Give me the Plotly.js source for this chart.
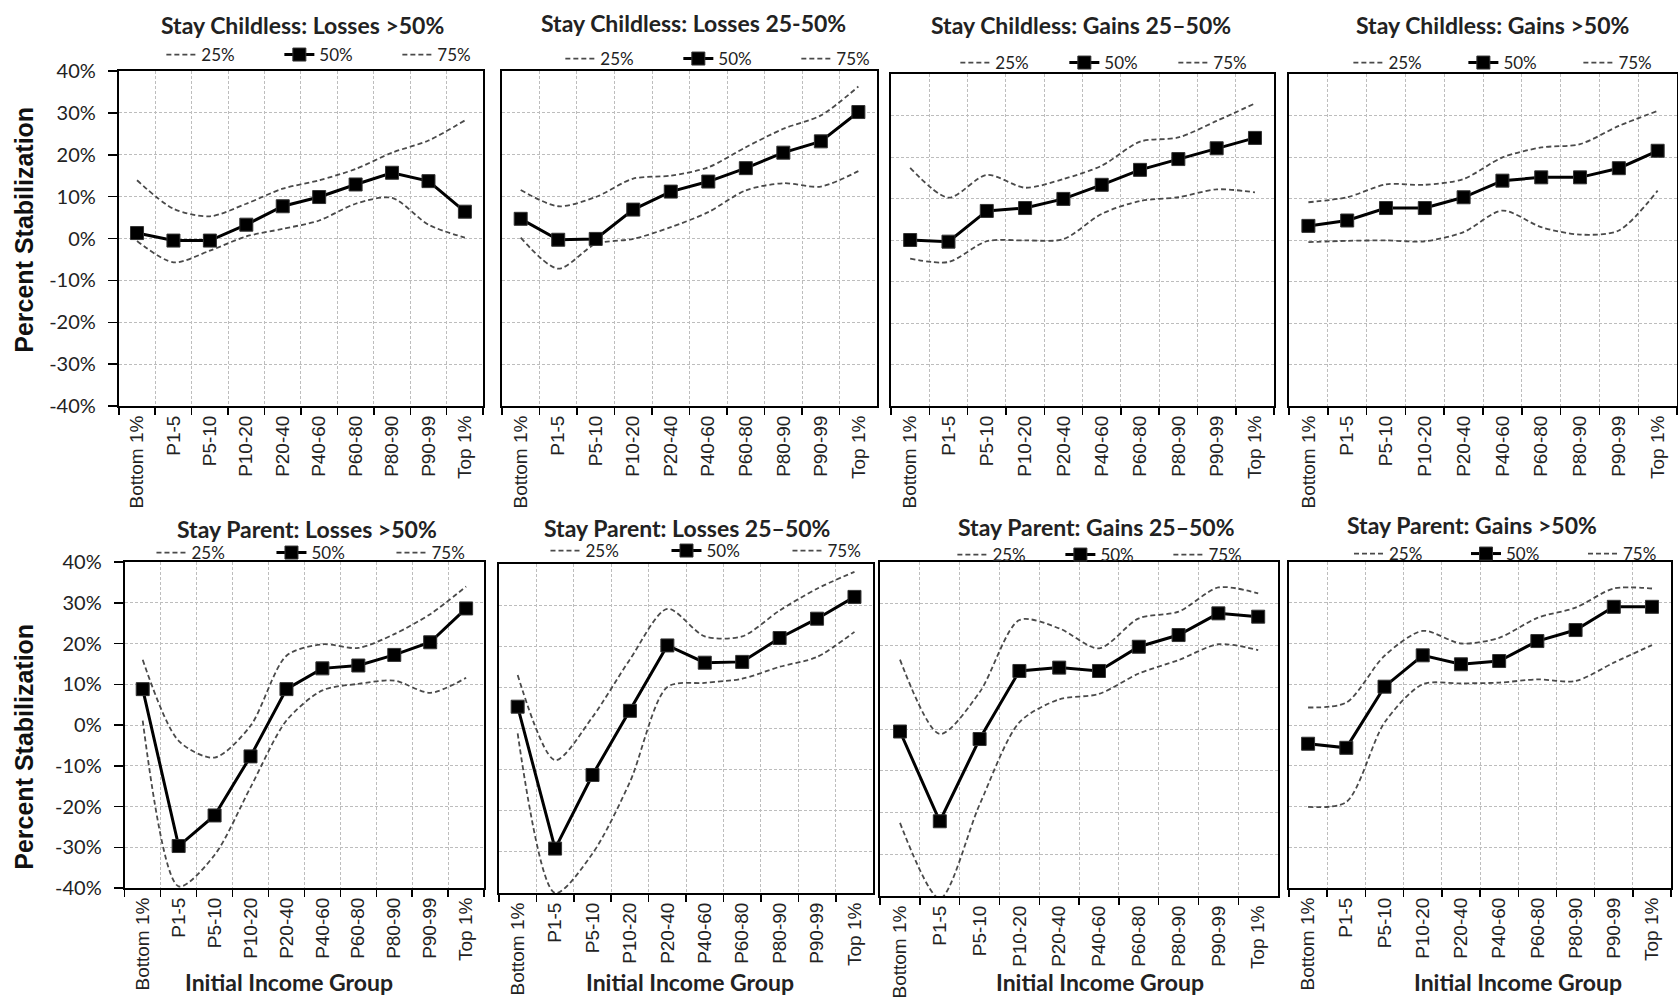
<!DOCTYPE html>
<html><head><meta charset="utf-8">
<script src="https://cdn.plot.ly/plotly-3.0.1.min.js"></script>
<style>html,body{margin:0;padding:0;overflow:hidden;background:#fff}#chart{width:1700px;height:1000px}</style>
</head><body><div id="chart"></div><script>
const categories = ["Bottom 1%","P1-5","P5-10","P10-20","P20-40","P40-60","P60-80","P80-90","P90-99","Top 1%"];
const legendLabels = ["25%","50%","75%"];
const yTickVals = [-40,-30,-20,-10,0,10,20,30,40];
const yTickText = ["-40%","-30%","-20%","-10%","0%","10%","20%","30%","40%"];
const panelTitles = ["Stay Childless: Losses >50%","Stay Childless: Losses 25-50%","Stay Childless: Gains 25–50%","Stay Childless: Gains >50%",
  "Stay Parent: Losses >50%","Stay Parent: Losses 25–50%","Stay Parent: Gains 25–50%","Stay Parent: Gains >50%"];
const yTitle = "Percent Stabilization";
const xTitle = "Initial Income Group";

// Stay Childless: Losses >50%
const cl50_q25 = [-0.6,-5.7,-2.9,0.5,2.3,4.3,8.3,9.7,3.3,0.2];
const cl50_q50 = [1.3,-0.5,-0.5,3.3,7.7,9.9,12.9,15.7,13.7,6.4];
const cl50_q75 = [13.9,7.1,5.3,8.3,11.9,13.9,16.6,20.5,23.4,28.2];
// Stay Childless: Losses 25-50%
const cl25_q25 = [0.2,-7.2,-1.3,-0.1,2.7,6.3,11.5,13.2,12.4,16.1];
const cl25_q50 = [4.7,-0.3,-0.1,6.9,11.2,13.6,16.8,20.5,23.2,30.2];
const cl25_q75 = [11.6,7.7,9.9,14.3,15.0,17.0,21.8,26.2,29.4,36.3];
// Stay Childless: Gains 25-50%
const cg25_q25 = [-4.5,-5.3,-0.3,-0.1,0.2,6.3,9.4,10.3,12.2,11.5];
const cg25_q50 = [0.0,-0.4,7.0,7.7,9.9,13.3,16.9,19.5,22.1,24.6];
const cg25_q75 = [17.4,10.2,15.7,12.6,14.7,17.9,23.7,24.7,28.7,32.9];
// Stay Childless: Gains >50%
const cg50_q25 = [-0.5,-0.2,-0.1,-0.3,1.9,7.1,3.1,1.3,2.3,11.9];
const cg50_q50 = [3.4,4.7,7.7,7.7,10.3,14.3,15.1,15.1,17.3,21.5];
const cg50_q75 = [9.1,10.3,13.4,13.3,14.7,19.9,22.3,23.1,27.5,31.1];
// Stay Parent: Losses >50%
const pl50_q25 = [1.1,-39.6,-31.9,-15.3,1.1,8.5,10.1,10.9,7.9,11.6];
const pl50_q50 = [8.8,-29.7,-22.2,-7.7,8.8,13.9,14.6,17.2,20.3,28.6];
const pl50_q75 = [16.0,-3.9,-8.0,-0.2,17.0,19.8,18.9,22.3,27.2,34.0];
// Stay Parent: Losses 25-50%
const pl25_q25 = [-1.2,-40.0,-30.4,-13.0,10.1,11.1,12.1,15.0,17.4,23.5];
const pl25_q50 = [5.3,-29.2,-11.3,4.3,20.2,16.0,16.2,22.0,26.7,32.0];
const pl25_q75 = [13.0,-7.7,2.8,16.8,29.1,22.4,22.4,28.7,34.0,38.1];
// Stay Parent: Gains 25-50%
const pg25_q25 = [-22.5,-40.6,-18.1,1.6,7.1,8.4,13.3,16.5,20.3,18.9];
const pg25_q50 = [-0.6,-22.1,-2.4,13.9,14.7,13.9,19.7,22.5,27.7,26.9];
const pg25_q75 = [16.6,-1.2,8.8,26.1,24.1,19.3,26.5,28.1,33.9,32.5];
// Stay Parent: Gains >50%
const pg50_q25 = [-20.1,-18.9,0.6,10.0,10.2,10.4,11.2,10.8,15.3,19.6];
const pg50_q50 = [-4.6,-5.6,9.4,17.1,14.9,15.7,20.6,23.3,29.0,29.0];
const pg50_q75 = [4.3,5.5,17.0,23.1,20.0,21.4,26.3,28.8,33.5,33.5];

const series = [
  [cl50_q25,cl50_q50,cl50_q75],[cl25_q25,cl25_q50,cl25_q75],[cg25_q25,cg25_q50,cg25_q75],[cg50_q25,cg50_q50,cg50_q75],
  [pl50_q25,pl50_q50,pl50_q75],[pl25_q25,pl25_q50,pl25_q75],[pg25_q25,pg25_q50,pg25_q75],[pg50_q25,pg50_q50,pg50_q75]
];

// layout geometry (pixels)
const W = 1700, H = 1000;
const boxes = [[120,488,71,406],[507,886,71,406],[900,1287,74,406],[1302,1694,74,406],
               [126,489,562,888],[504,882,564,893],[889,1291,562,896],[1302,1688,562,888]];
const titlePos = [[306,25],[700,23],[1092,25],[1508,25],[310,529],[694,528],[1108,527],[1487,525]];
const legendPos = [[163,55,118],[566,59,118],[965,63,109],[1362,63,115],[153,553,120],[551,551,121],[962,555,108],[1363,554,117]];
const yTitlePos = [[24,230],[24,747]];
const xTitlePos = [[292,982],[697,982],[1111,982],[1533,982]];

const traces = [];
const layout = {
  width: W, height: H, margin:{l:0,r:0,t:0,b:0}, paper_bgcolor:'#fff', plot_bgcolor:'#fff',
  showlegend: true, annotations: [], font:{family:'Lato', color:'#222'}
};
const dashStyle = '5px,3px';
for (let i = 0; i < 8; i++) {
  const n = i === 0 ? '' : String(i+1);
  const lg = i === 0 ? 'legend' : 'legend' + (i+1);
  const [q25,q50,q75] = series[i];
  const common = {x: categories, xaxis:'x'+n, yaxis:'y'+n, legend: lg, hoverinfo:'skip'};
  traces.push(Object.assign({}, common, {y:q25, name:legendLabels[0], mode:'lines',
    line:{color:'#4a4a4a', width:1.8, dash:dashStyle, shape:'spline', smoothing:0.8}}));
  traces.push(Object.assign({}, common, {y:q50, name:legendLabels[1], mode:'lines+markers',
    line:{color:'#000', width:3}, marker:{symbol:'square', size:13, color:'#000', line:{color:'#333', width:1}}}));
  traces.push(Object.assign({}, common, {y:q75, name:legendLabels[2], mode:'lines',
    line:{color:'#4a4a4a', width:1.8, dash:dashStyle, shape:'spline', smoothing:0.8}}));
  const [x0,x1,y0,y1] = boxes[i];
  const leftPanel = (i === 0 || i === 4);
  layout['xaxis'+n] = {
    domain:[x0/W, x1/W], anchor:'y'+n, type:'category', categoryarray: categories, range:[-0.5,9.5],
    tickson:'boundaries', ticks:'outside', ticklen:7, tickwidth:1.5, tickcolor:'#000',
    showline:true, mirror:true, linecolor:'#000', linewidth:2,
    showgrid:true, gridcolor:'#bdbdbd', gridwidth:1, griddash:'3px,2px', zeroline:false,
    tickangle:-90, tickfont:{family:'Liberation Sans', size:19, color:'#222'}, fixedrange:true
  };
  layout['yaxis'+n] = {
    domain:[1-y1/H, 1-y0/H], anchor:'x'+n, range:[-40,40], tickvals:yTickVals, ticktext:yTickText,
    showticklabels: leftPanel, ticks: leftPanel ? 'outside' : '', ticklen:9, tickwidth:1.5, tickcolor:'#000',
    ticklabelstandoff: 8,
    showline:true, mirror:true, linecolor:'#000', linewidth:2,
    showgrid:true, gridcolor:'#bdbdbd', gridwidth:1, griddash:'3px,2px', zeroline:false,
    tickfont:{family:'Lato', size:20, color:'#222'}, fixedrange:true
  };
  const [lx,ly,lw] = legendPos[i];
  layout[lg] = {orientation:'h', x: lx/W, y: 1-ly/H, xanchor:'left', yanchor:'middle',
    entrywidth: lw-45, entrywidthmode:'pixels', bgcolor:'rgba(0,0,0,0)', borderwidth:0,
    font:{family:'Lato', size:17, color:'#222'}, itemclick:false, itemdoubleclick:false, traceorder:'normal'};
  layout.annotations.push({text: panelTitles[i], x: titlePos[i][0]/W, y: 1-titlePos[i][1]/H, xref:'paper', yref:'paper',
    showarrow:false, xanchor:'center', yanchor:'middle', font:{family:'Lato', size:23, weight:700, color:'#222'}});
}
yTitlePos.forEach(p => layout.annotations.push({text: yTitle, x:p[0]/W, y:1-p[1]/H, xref:'paper', yref:'paper',
  showarrow:false, textangle:-90, xanchor:'center', yanchor:'middle', font:{family:'Liberation Sans', size:25, weight:700, color:'#111'}}));
xTitlePos.forEach(p => layout.annotations.push({text: xTitle, x:p[0]/W, y:1-p[1]/H, xref:'paper', yref:'paper',
  showarrow:false, xanchor:'center', yanchor:'middle', font:{family:'Lato', size:23, weight:700, color:'#222'}}));

Plotly.newPlot('chart', traces, layout, {displayModeBar:false, staticPlot:true});
</script></body></html>
